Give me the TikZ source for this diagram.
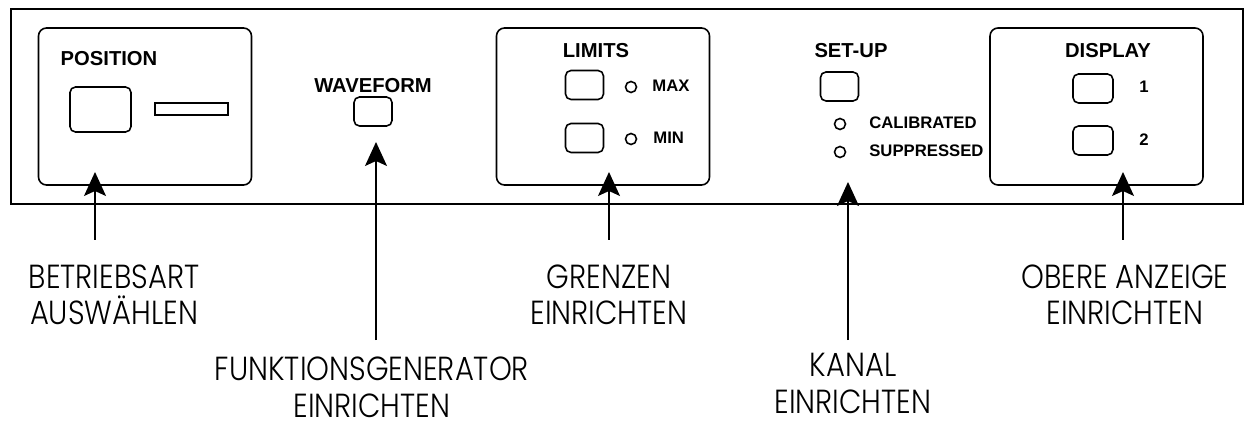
\documentclass[tikz,border=0pt]{standalone}
\usepackage{fontspec}
\usetikzlibrary{arrows.meta}
\newfontfamily\panelfont{Liberation Sans}
\newfontfamily\calloutfont[FakeStretch=0.87]{Poppins Light}

\begin{document}
\begin{tikzpicture}[
    x=0.2mm, y=-0.2mm,
    housing/.style={draw, line width=1.1pt, minimum width=246.4mm, minimum height=39mm, inner sep=0pt},
    panel/.style={draw, rounded corners=1.6mm, line width=0.9pt, minimum width=42.6mm, minimum height=31.4mm, inner sep=0pt},
    knob/.style={draw, rounded corners=1.1mm, line width=0.9pt, minimum width=7.6mm, minimum height=5.8mm, inner sep=0pt},
    lamp/.style={draw, circle, line width=0.9pt, minimum size=2.2mm, inner sep=0pt},
    caption/.style={font=\panelfont\bfseries\fontsize{11.5}{13}\selectfont, inner sep=0pt, anchor=base},
    tag/.style={font=\panelfont\bfseries\fontsize{9.5}{11}\selectfont, inner sep=0pt, anchor=base west},
    callout/.style={font=\calloutfont\fontsize{19}{20.8}\selectfont, align=center, inner sep=0pt, anchor=base},
    pointer/.style={-{Stealth[length=4.8mm, width=4.4mm, inset=1mm]}, line width=0.85pt}
  ]
    \useasboundingbox (0,0) rectangle (1247,428);

    % Front plate
    \node[housing] (plate) at (627,106.5) {};

    % Position group
    \node[panel] (posBox) at (145,106.5) {};
    \node[caption] (posText) at (109,66) {POSITION};
    \node[knob, minimum width=12.2mm, minimum height=9mm] (posBtn) at (100.5,109.5) {};
    \node[draw, line width=0.9pt, minimum width=14.6mm, minimum height=2.4mm, inner sep=0pt] (posSlot) at (191.5,109) {};

    % Waveform
    \node[caption] (waveText) at (373,93) {WAVEFORM};
    \node[knob] (waveBtn) at (373,111.5) {};

    % Limits group
    \node[panel] (limBox) at (603,106.5) {};
    \node[caption] (limText) at (596,58) {LIMITS};
    \node[knob] (limBtnA) at (584.5,85) {};
    \node[knob] (limBtnB) at (584.5,138) {};
    \node[lamp] (limLedA) at (631,87) {};
    \node[lamp] (limLedB) at (631,139) {};
    \node[tag] (maxText) at (652,92) {MAX};
    \node[tag] (minText) at (653,144) {MIN};

    % Set-up
    \node[caption] (setText) at (851,58) {SET-UP};
    \node[knob] (setBtn) at (839.5,86.5) {};
    \node[lamp] (setLedA) at (840,124) {};
    \node[lamp] (setLedB) at (840,152) {};
    \node[tag] (calText) at (869,129) {CALIBRATED};
    \node[tag] (supText) at (869,157) {SUPPRESSED};

    % Display group
    \node[panel] (dispBox) at (1096.5,106.5) {};
    \node[caption] (dispText) at (1108,58) {DISPLAY};
    \node[knob, minimum width=8mm] (dispBtnA) at (1093,88.5) {};
    \node[knob, minimum width=8mm] (dispBtnB) at (1093,140.5) {};
    \node[tag] (oneText) at (1139,93) {1};
    \node[tag] (twoText) at (1139,146) {2};

    % Callouts (base = last line)
    \node[callout] (betLbl) at (114,325) {BETRIEBSART\\AUSWÄHLEN};
    \node[callout] (funLbl) at (372,417) {FUNKTIONSGENERATOR\\EINRICHTEN};
    \node[callout] (greLbl) at (609,325) {GRENZEN\\EINRICHTEN};
    \node[callout] (kanLbl) at (853,413) {KANAL\\EINRICHTEN};
    \node[callout] (obeLbl) at (1125,325) {OBERE ANZEIGE\\EINRICHTEN};

    \coordinate (betFoot) at (95,240);
    \coordinate (betTip) at (95,172);
    \coordinate (funFoot) at (376,340);
    \coordinate (funTip) at (376,142);
    \coordinate (greFoot) at (609,240);
    \coordinate (greTip) at (609,172);
    \coordinate (kanFoot) at (848,340);
    \coordinate (kanTip) at (848,182);
    \coordinate (obeFoot) at (1123,240);
    \coordinate (obeTip) at (1123,172);

    \draw[pointer] (betFoot) -- (betTip);
    \draw[pointer] (funFoot) -- (funTip);
    \draw[pointer] (greFoot) -- (greTip);
    \draw[pointer] (kanFoot) -- (kanTip);
    \draw[pointer] (obeFoot) -- (obeTip);
\end{tikzpicture}
\end{document}
